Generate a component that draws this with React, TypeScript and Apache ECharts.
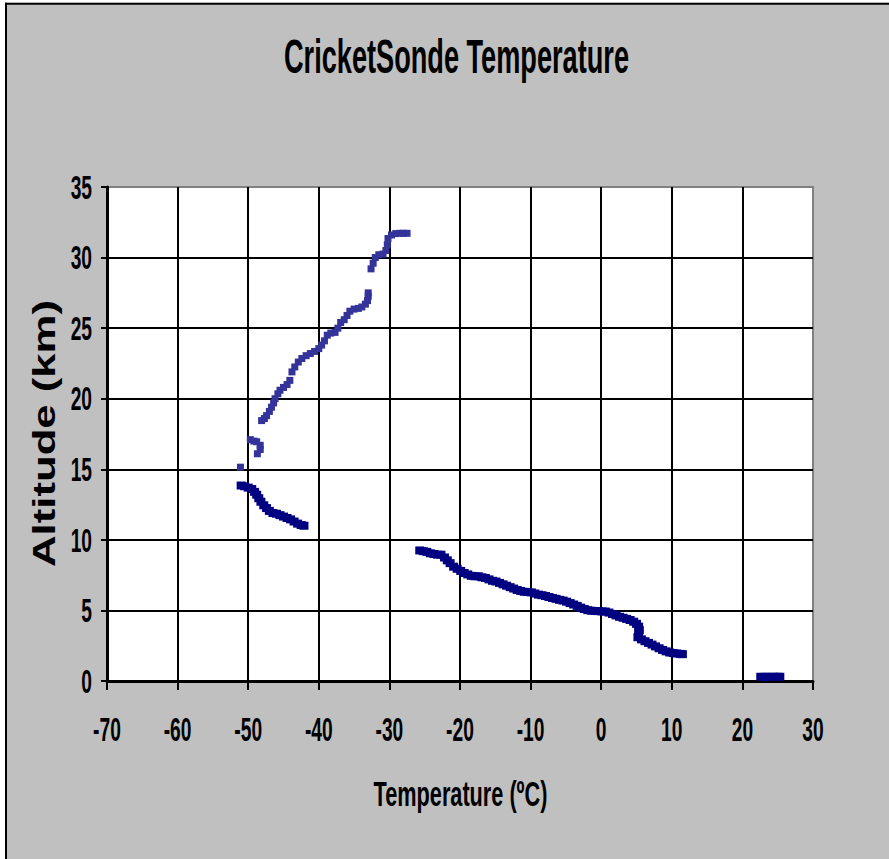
import React, { useEffect, useRef } from "react";
import * as echarts from "echarts";

const chartTitle = "CricketSonde Temperature";
const xAxisTitle = "Temperature (ºC)";
const yAxisTitle = "Altitude (km)";

const xTicks = [-70, -60, -50, -40, -30, -20, -10, 0, 10, 20, 30];
const yTicks = [0, 5, 10, 15, 20, 25, 30, 35];

// Lower part of the flight (dark navy markers)
const navyTemp = [
  22.6, 23.2, 23.8, 24.4, 25.0, 25.3,
  11.5, 11.2, 10.7, 10.2, 9.7, 9.2, 8.7, 8.2, 7.7, 7.2, 6.7, 6.2, 5.7, 5.2, 5.3, 5.4, 5.3,
  5.0, 4.6, 4.1, 3.6, 3.1, 2.6, 2.1, 1.6, 1.1, 0.6, 0.1, -0.4, -0.9, -1.4, -1.9, -2.4,
  -2.9, -3.4, -3.9, -4.4, -4.9, -5.4, -5.9, -6.4, -6.9, -7.4, -7.9, -8.4, -8.9, -9.4,
  -9.9, -10.4, -10.9, -11.4, -11.9, -12.4, -12.9, -13.4, -13.9, -14.4, -14.9, -15.4,
  -15.9, -16.4, -16.9, -17.4, -17.9, -18.4, -18.9, -19.4, -19.9, -20.4, -20.9, -21.4,
  -21.8, -22.2, -22.7, -23.2, -23.7, -24.2, -24.7, -25.2, -25.7,
  -42.1, -42.5, -43.0, -43.5, -44.0, -44.5, -45.0, -45.5, -46.0, -46.5, -47.0, -47.4,
  -47.8, -48.2, -48.5, -48.8, -49.1, -49.5, -50.0, -50.5, -51.0,
];
const navyAlt = [
  0.3, 0.3, 0.3, 0.3, 0.3, 0.3,
  1.9, 1.92, 1.95, 1.98, 2.02, 2.1, 2.2, 2.32, 2.45, 2.58, 2.7, 2.82, 2.95, 3.1, 3.35, 3.6, 3.85,
  4.05, 4.2, 4.32, 4.4, 4.48, 4.55, 4.65, 4.75, 4.85, 4.92, 4.93, 4.95, 4.96, 4.98, 5.02, 5.1,
  5.2, 5.32, 5.42, 5.52, 5.62, 5.7, 5.75, 5.82, 5.88, 5.95, 6.02, 6.08, 6.12, 6.2,
  6.28, 6.3, 6.32, 6.38, 6.45, 6.55, 6.65, 6.75, 6.85, 6.95, 7.05, 7.1,
  7.2, 7.3, 7.35, 7.42, 7.42, 7.45, 7.55, 7.65, 7.8, 7.95, 8.1, 8.35,
  8.55, 8.75, 8.95, 8.95, 9.0, 9.05, 9.15, 9.2, 9.25,
  11.0, 11.05, 11.15, 11.3, 11.45, 11.55, 11.65, 11.75, 11.85, 11.9, 12.05, 12.25,
  12.45, 12.7, 12.95, 13.2, 13.4, 13.6, 13.7, 13.8, 13.85,
];

// Upper part of the flight (blue markers)
const blueTemp = [
  -51.1,
  -49.7, -49.2, -48.8, -48.3, -48.3, -48.7,
  -48.1, -47.7, -47.4, -47.0, -46.7, -46.4, -46.2, -45.8, -45.5, -45.0, -44.5, -44.1,
  -43.8, -43.4, -42.9, -42.4, -41.8, -41.2, -40.6, -40.0, -39.6, -39.2, -38.8, -38.3,
  -37.7, -37.3, -36.9, -36.4, -36.0, -35.6, -35.0, -34.4, -33.9, -33.4, -33.1, -33.0, -33.0,
  -32.6, -32.3, -32.0, -31.5, -30.9, -30.5, -30.3, -30.2, -29.7, -29.1, -28.5, -28.0, -27.5,
];
const blueAlt = [
  15.15,
  17.1, 17.0, 16.95, 16.7, 16.4, 16.1,
  18.45, 18.6, 18.8, 19.1, 19.4, 19.7, 20.0, 20.35, 20.6, 20.8, 21.0, 21.3,
  21.9, 22.25, 22.6, 22.85, 23.05, 23.2, 23.35, 23.55, 23.8, 24.1, 24.5, 24.65,
  24.7, 25.0, 25.4, 25.6, 25.9, 26.2, 26.35, 26.4, 26.5, 26.7, 26.95, 27.25, 27.5,
  29.2, 29.6, 30.0, 30.2, 30.25, 30.5, 30.9, 31.35, 31.6, 31.7, 31.72, 31.72, 31.72,
];

const FONT = '"Liberation Sans", Arial, Helvetica, sans-serif';

export default function App() {
  const ref = useRef<HTMLDivElement>(null);

  useEffect(() => {
    document.body.style.margin = "0";
    if (!ref.current) return;
    const chart = echarts.init(ref.current, undefined, { renderer: "svg" });

    const navyData = navyTemp.map((t, i) => [t, navyAlt[i]]);
    const blueData = blueTemp.map((t, i) => [t, blueAlt[i]]);

    const axisCommon = {
      type: "value" as const,
      axisLine: { show: true, onZero: false, lineStyle: { color: "#000", width: 3 } },
      axisLabel: { show: false },
      splitLine: {
        show: true,
        showMinLine: false,
        showMaxLine: false,
        lineStyle: { color: "#000", width: 2 },
      },
    };

    chart.setOption({
      animation: false,
      backgroundColor: "#c0c0c0",
      grid: {
        left: 107,
        top: 187,
        width: 706,
        height: 494,
        show: true,
        backgroundColor: "#ffffff",
        borderColor: "#808080",
        borderWidth: 2,
      },
      xAxis: {
        ...axisCommon,
        min: -70,
        max: 30,
        interval: 10,
        axisTick: { show: true, inside: false, length: 9, lineStyle: { color: "#000", width: 2 } },
      },
      yAxis: {
        ...axisCommon,
        min: 0,
        max: 35,
        interval: 5,
        axisTick: { show: true, inside: false, length: 6, lineStyle: { color: "#000", width: 2 } },
      },
      series: [
        {
          type: "scatter",
          name: "lower",
          data: navyData,
          symbol: "rect",
          symbolSize: [9, 8],
          itemStyle: { color: "#000080", opacity: 1 },
          z: 3,
        },
        {
          type: "scatter",
          name: "upper",
          data: blueData,
          symbol: "rect",
          symbolSize: [7, 7],
          itemStyle: { color: "#333399", opacity: 1 },
          z: 3,
        },
      ],
    });

    const elements: any[] = [
      { type: "rect", shape: { x: 0, y: 0, width: 5, height: 859 }, style: { fill: "#fff" }, silent: true },
      { type: "rect", shape: { x: 0, y: 0, width: 889, height: 2.7 }, style: { fill: "#fff" }, silent: true },
      { type: "line", shape: { x1: 6, y1: 2.7, x2: 6, y2: 859 }, style: { stroke: "#000", lineWidth: 2 }, silent: true },
      { type: "line", shape: { x1: 5, y1: 3.7, x2: 889, y2: 3.7 }, style: { stroke: "#000", lineWidth: 2 }, silent: true },
      {
        type: "text",
        x: 456.5,
        y: 55.7,
        scaleX: 0.554,
        style: {
          text: chartTitle,
          font: `bold 49px ${FONT}`,
          fill: "#000",
          align: "center",
          verticalAlign: "middle",
          textAlign: "center",
          textVerticalAlign: "middle",
        },
      },
      {
        type: "text",
        x: 460.5,
        y: 794.2,
        scaleX: 0.62,
        style: {
          text: xAxisTitle,
          font: `bold 35px ${FONT}`,
          fill: "#000",
          align: "center",
          verticalAlign: "middle",
          textAlign: "center",
          textVerticalAlign: "middle",
        },
      },
      {
        type: "text",
        x: 44,
        y: 433.5,
        rotation: Math.PI / 2,
        scaleX: 1.41,
        style: {
          text: yAxisTitle,
          font: `bold 31px ${FONT}`,
          fill: "#000",
          align: "center",
          verticalAlign: "middle",
          textAlign: "center",
          textVerticalAlign: "middle",
        },
      },
    ];

    xTicks.forEach((v) => {
      const px = chart.convertToPixel({ xAxisIndex: 0 }, v) as number;
      elements.push({
        type: "text",
        x: px,
        y: 729.2,
        scaleX: 0.565,
        style: {
          text: String(v),
          font: `bold 34px ${FONT}`,
          fill: "#000",
          align: "center",
          verticalAlign: "middle",
          textAlign: "center",
          textVerticalAlign: "middle",
        },
      });
    });
    yTicks.forEach((v) => {
      const py = chart.convertToPixel({ yAxisIndex: 0 }, v) as number;
      elements.push({
        type: "text",
        x: 92,
        y: py,
        scaleX: 0.565,
        style: {
          text: String(v),
          font: `bold 34px ${FONT}`,
          fill: "#000",
          align: "right",
          verticalAlign: "middle",
          textAlign: "right",
          textVerticalAlign: "middle",
        },
      });
    });

    chart.setOption({ graphic: { elements } });

    return () => {
      chart.dispose();
    };
  }, []);

  return <div ref={ref} style={{ width: 889, height: 859 }} />;
}
